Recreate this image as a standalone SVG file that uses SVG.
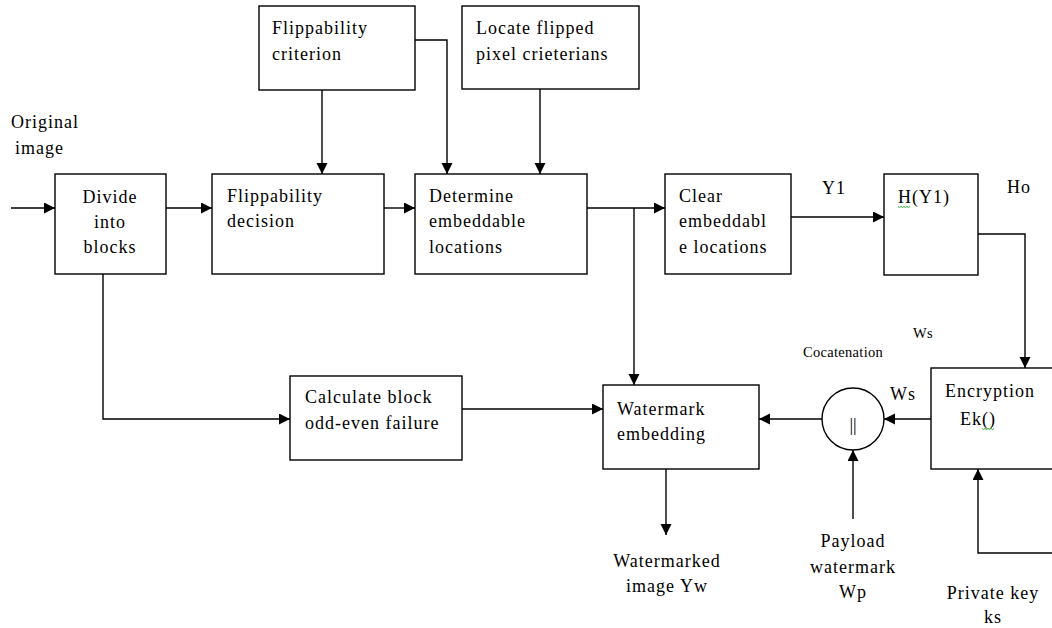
<svg xmlns="http://www.w3.org/2000/svg" width="1052" height="628" viewBox="0 0 1052 628">
<style>
.box{fill:#fff;stroke:#000;stroke-width:1.4}
.ln{fill:none;stroke:#000;stroke-width:1.4}
text{font-family:'Liberation Serif',serif;font-size:18px;letter-spacing:1px;fill:#000}
.sm{font-size:14.5px;letter-spacing:0.3px}
.c{text-anchor:middle}
.sq{fill:none;stroke:#3a3;stroke-width:0.8}
</style>
<defs>
<marker id="ah" markerUnits="userSpaceOnUse" markerWidth="12" markerHeight="12" refX="11" refY="5.5" orient="auto">
<path d="M0,0 L11,5.5 L0,11 z" fill="#000"/>
</marker>
</defs>
<rect width="1052" height="628" fill="#fff"/>
<g id="connectors">
<path class="ln" d="M11,208 H55" marker-end="url(#ah)"/>
<path class="ln" d="M166,208 H212" marker-end="url(#ah)"/>
<path class="ln" d="M384,208 H415" marker-end="url(#ah)"/>
<path class="ln" d="M587,208 H665" marker-end="url(#ah)"/>
<path class="ln" d="M634,208 V385" marker-end="url(#ah)"/>
<path class="ln" d="M791,217 H884" marker-end="url(#ah)"/>
<path class="ln" d="M978,234 H1025 V368" marker-end="url(#ah)"/>
<path class="ln" d="M931,419 H884" marker-end="url(#ah)"/>
<path class="ln" d="M822,419 H759" marker-end="url(#ah)"/>
<path class="ln" d="M853,519 V450" marker-end="url(#ah)"/>
<path class="ln" d="M1052,553 H978 V469" marker-end="url(#ah)"/>
<path class="ln" d="M103,274 V419 H290" marker-end="url(#ah)"/>
<path class="ln" d="M462,409 H603" marker-end="url(#ah)"/>
<path class="ln" d="M666,469 V535" marker-end="url(#ah)"/>
<path class="ln" d="M322,90 V174" marker-end="url(#ah)"/>
<path class="ln" d="M415,40 H447 V174" marker-end="url(#ah)"/>
<path class="ln" d="M540,89 V174" marker-end="url(#ah)"/>
</g>
<g id="original-image">
<text x="11" y="128">Original</text>
<text x="15" y="154">image</text>
</g>
<g id="divide">
<rect class="box" x="55" y="174" width="111" height="100"/>
<text class="c" x="110" y="203">Divide</text>
<text class="c" x="110" y="228">into</text>
<text class="c" x="110" y="253">blocks</text>
</g>
<g id="flip-decision">
<rect class="box" x="212" y="174" width="172" height="100"/>
<text x="227" y="202">Flippability</text>
<text x="227" y="227">decision</text>
</g>
<g id="determine">
<rect class="box" x="415" y="174" width="172" height="100"/>
<text x="429" y="202">Determine</text>
<text x="429" y="227">embeddable</text>
<text x="429" y="253">locations</text>
</g>
<g id="clear">
<rect class="box" x="665" y="174" width="126" height="100"/>
<text x="679" y="202">Clear</text>
<text x="679" y="227">embeddabl</text>
<text x="679" y="253">e locations</text>
</g>
<g id="y1-label"><text x="822" y="194">Y1</text></g>
<g id="hash">
<rect class="box" x="884" y="174" width="94" height="101"/>
<text x="898" y="203">H(Y1)</text>
<path class="sq" d="M898,206 l1.5,2 l1.5,-2 l1.5,2 l1.5,-2 l1.5,2 l1.5,-2 l1.5,2 l1.5,-2"/>
</g>
<g id="ho-label"><text x="1007" y="193">Ho</text></g>
<g id="flip-criterion">
<rect class="box" x="259" y="6" width="156" height="84"/>
<text x="272" y="34">Flippability</text>
<text x="272" y="60">criterion</text>
</g>
<g id="locate">
<rect class="box" x="462" y="6" width="177" height="83"/>
<text x="476" y="34">Locate flipped</text>
<text x="476" y="60">pixel crieterians</text>
</g>
<g id="calculate">
<rect class="box" x="290" y="376" width="172" height="84"/>
<text x="305" y="403">Calculate block</text>
<text x="305" y="429">odd-even failure</text>
</g>
<g id="watermark-embedding">
<rect class="box" x="603" y="385" width="156" height="84"/>
<text x="617" y="415">Watermark</text>
<text x="617" y="440">embedding</text>
</g>
<g id="watermarked-output">
<text class="c" x="667" y="567">Watermarked</text>
<text class="c" x="667" y="592">image Yw</text>
</g>
<g id="concat">
<circle class="box" cx="853" cy="419" r="31"/>
<text class="c" x="853" y="431" style="letter-spacing:0">||</text>
<text class="sm" x="803" y="357">Cocatenation</text>
<text class="sm" x="913" y="338">Ws</text>
<text x="890" y="400">Ws</text>
</g>
<g id="encryption">
<rect class="box" x="931" y="368" width="130" height="101"/>
<text x="945" y="397">Encryption</text>
<text x="960" y="425">Ek()</text>
<path class="sq" d="M982,428 l1.5,2 l1.5,-2 l1.5,2 l1.5,-2 l1.5,2 l1.5,-2 l1.5,2 l1.5,-2"/>
</g>
<g id="payload">
<text class="c" x="853" y="547">Payload</text>
<text class="c" x="853" y="573">watermark</text>
<text class="c" x="853" y="598">Wp</text>
</g>
<g id="private-key">
<text class="c" x="993" y="599">Private key</text>
<text class="c" x="993" y="623">ks</text>
</g>
</svg>
